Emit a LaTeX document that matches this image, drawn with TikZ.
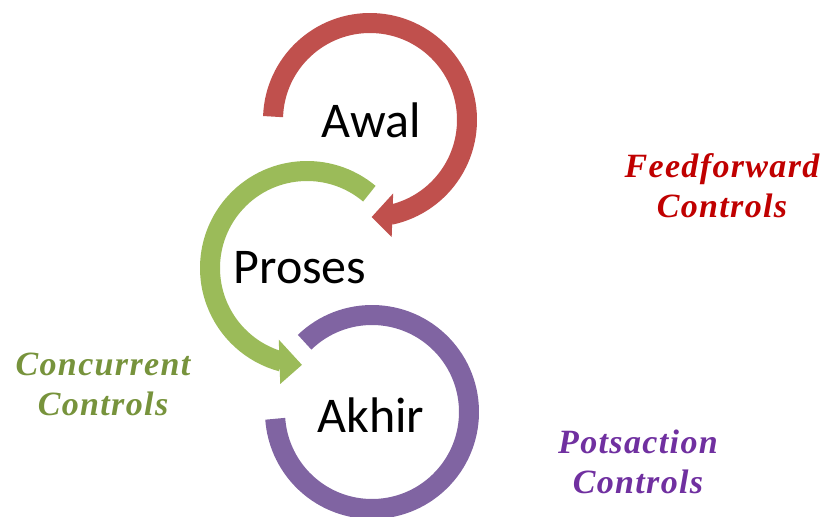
\documentclass[tikz,border=0pt]{standalone}
\usepackage{fontspec}
\setmainfont{Liberation Serif}
\newfontfamily\stagefont{Carlito}
\newfontfamily\ctrlfont[LetterSpace=4]{Liberation Serif}

\definecolor{arcred}{HTML}{C0504D}
\definecolor{arcgreen}{HTML}{9BBB59}
\definecolor{arcpurple}{HTML}{8064A2}
\definecolor{ffred}{HTML}{C00000}
\definecolor{ccgreen}{HTML}{77933C}
\definecolor{pcpurple}{HTML}{7030A0}

\tikzstyle{band}=[line width=10pt]
\tikzstyle{stage}=[font=\stagefont\fontsize{25}{29}\selectfont, inner sep=0pt, anchor=base]
\tikzstyle{ctrl}=[font=\ctrlfont\bfseries\itshape\fontsize{17}{20}\selectfont, align=center, inner sep=0pt]
\def\arcrad{97}
\def\headin{77}
\def\headout{119}

\begin{document}
\begin{tikzpicture}[x=0.5pt,y=0.5pt]
	\useasboundingbox (0,0) rectangle (825,516);
	% Define the centres of the three cycles
	\coordinate (awal_c) at (370,396);
	\coordinate (proses_c) at (307,248);
	\coordinate (akhir_c) at (372,104);

	% Define the nodes in the picture
	\node[stage] (awal) at (371,379) {Awal};
	\node[stage] (proses) at (300,233) {Proses};
	\node[stage] (akhir) at (371,84) {Akhir};
	\node[ctrl, text=ffred] (feedfwd) at (722,330) {Feedforward\\Controls};
	\node[ctrl, text=ccgreen] (concurr) at (103,132) {Concurrent\\Controls};
	\node[ctrl, text=pcpurple] (postact) at (638,54) {Potsaction\\Controls};

	% Define the arcs in the picture
	\draw[band, arcred] ([shift={(178:\arcrad)}]awal_c) arc[start angle=178, end angle=-78, radius=\arcrad];
	\fill[arcred] ([shift={(-72.5:\headin)}]awal_c) -- ([shift={(-89:\arcrad)}]awal_c) -- ([shift={(-79.5:\headout)}]awal_c) -- cycle;
	\draw[band, arcgreen] ([shift={(50:\arcrad)}]proses_c) arc[start angle=50, end angle=255, radius=\arcrad];
	\fill[arcgreen] ([shift={(248.5:\headin)}]proses_c) -- ([shift={(267:\arcrad)}]proses_c) -- ([shift={(257:\headout)}]proses_c) -- cycle;
	\draw[band, arcpurple] ([shift={(134:\arcrad)}]akhir_c) arc[start angle=134, end angle=-176, radius=\arcrad];
\end{tikzpicture}
\end{document}
